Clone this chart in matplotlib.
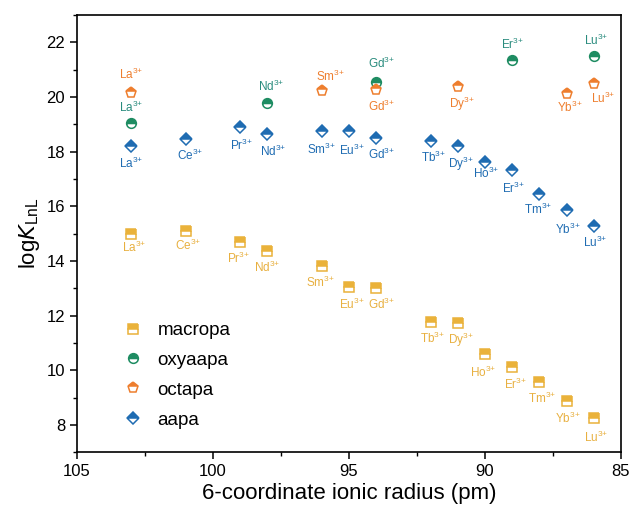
import numpy as np
import matplotlib
matplotlib.use("Agg")
import matplotlib.pyplot as plt
from matplotlib.ticker import MultipleLocator

plt.rcParams['font.family'] = ['Liberation Sans', 'DejaVu Sans']
plt.rcParams['mathtext.default'] = 'regular'

# ionic radius (pm) for each Ln3+
ions = ['La', 'Ce', 'Pr', 'Nd', 'Sm', 'Eu', 'Gd', 'Tb', 'Dy', 'Ho', 'Er', 'Tm', 'Yb', 'Lu']
radius = [103, 101, 99, 98, 96, 95, 94, 92, 91, 90, 89, 88, 87, 86]

macropa = [14.99, 15.11, 14.70, 14.36, 13.82, 13.03, 13.02, 11.76, 11.72, 10.59, 10.10, 9.57, 8.88, 8.24]

aapa_ions = ions
aapa = [18.19, 18.46, 18.89, 18.65, 18.74, 18.76, 18.50, 18.40, 18.22, 17.61, 17.33, 16.44, 15.86, 15.28]

octapa_ions = ['La', 'Sm', 'Gd', 'Dy', 'Yb', 'Lu']
octapa = [20.15, 20.21, 20.25, 20.36, 20.11, 20.49]

oxyaapa_ions = ['La', 'Nd', 'Gd', 'Er', 'Lu']
oxyaapa = [19.05, 19.76, 20.55, 21.35, 21.50]

rad = dict(zip(ions, radius))

# label offsets (points) per series, same order as the ions
off_macropa = [(2, -10), (2, -11), (-1, -12), (0, -12), (-1, -12), (2, -12), (4, -12),
               (1, -12), (2, -12), (-1, -13), (2, -12), (2, -12), (1, -13), (2, -14)]
off_aapa = [(0, -12), (3, -12), (1, -13), (4, -13), (0, -13), (2, -14), (4, -12),
            (2, -12), (2, -13), (1, -8), (1, -13), (-1, -11), (1, -14), (1, -12)]
off_octapa = [(0, 13), (6, 11), (4, -12), (3, -12), (2, -10), (7, -11)]
off_oxyaapa = [(0, 11), (3, 12), (4, 13), (0, 11), (2, 11)]

series = [
    ('macropa', macropa, ions, 's', '#EAB23A', off_macropa),
    ('oxyaapa', oxyaapa, oxyaapa_ions, 'o', '#1E8C62', off_oxyaapa),
    ('octapa', octapa, octapa_ions, 'p', '#EE7E2E', off_octapa),
    ('aapa', aapa, aapa_ions, 'D', '#1F6CB2', off_aapa),
]
label_colors = {'macropa': '#E8B040', 'oxyaapa': '#2A8C7E', 'octapa': '#EE7E2E', 'aapa': '#1F6CB2'}
sizes = {'s': 6.5, 'o': 7.0, 'p': 8.0, 'D': 6.5}

fig = plt.figure(figsize=(6.33, 5.15), dpi=100)
ax = fig.add_axes([0.1216, 0.122, 0.981 - 0.1216, 0.971 - 0.122])

for name, vals, ion_list, mk, col, offs in series:
    xs = [rad[i] for i in ion_list]
    ax.plot(xs, vals, linestyle='none', marker=mk, ms=sizes[mk], mew=1.1,
            color=col, mec=col, mfc=col, fillstyle='top', markerfacecoloralt='white',
            label=name)
    for x, y, ion, (dx, dy) in zip(xs, vals, ion_list, offs):
        ax.annotate(ion + '$^{3{+}}$', (x, y), xytext=(dx, dy), textcoords='offset points',
                    ha='center', va='center', fontsize=8.5, color=label_colors[name])

ax.set_xlim(105, 85)
ax.set_ylim(7, 23)
ax.xaxis.set_major_locator(MultipleLocator(5))
ax.xaxis.set_minor_locator(MultipleLocator(2.5))
ax.yaxis.set_major_locator(MultipleLocator(2))
ax.yaxis.set_minor_locator(MultipleLocator(1))
ax.set_yticks(np.arange(8, 23, 2))
ax.tick_params(which='major', direction='out', length=5, width=1.1, labelsize=12)
ax.tick_params(which='minor', direction='out', length=3, width=1.0)
for s in ax.spines.values():
    s.set_linewidth(1.2)

ax.set_xlabel('6-coordinate ionic radius (pm)', fontsize=16, labelpad=3)
ax.set_ylabel('log$\\mathit{K}_{LnL}$', fontsize=16, labelpad=3)

ax.legend(loc='lower left', bbox_to_anchor=(0.055, 0.015), frameon=False, fontsize=13.5,
          handletextpad=0.8, labelspacing=0.68, handlelength=1.0)

fig.savefig('out.png', dpi=100)
